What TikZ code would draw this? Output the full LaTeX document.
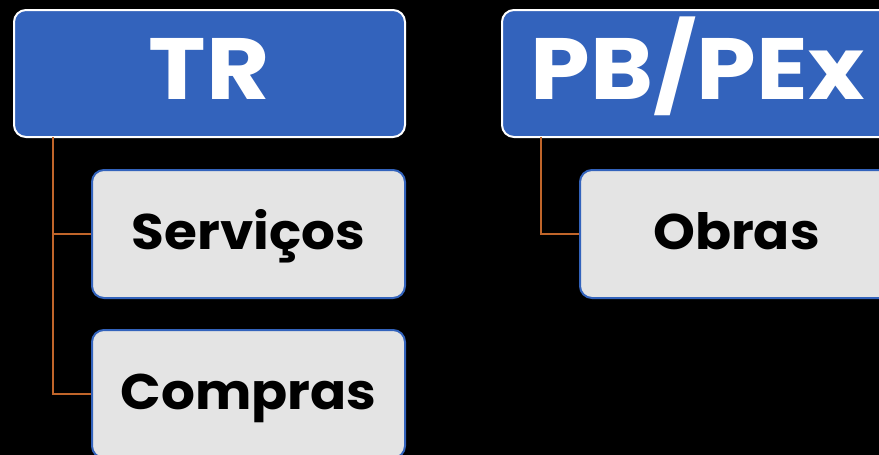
\documentclass[tikz,border=0pt]{standalone}
\usepackage{fontspec}
\setmainfont{Poppins}
\definecolor{hdrblue}{HTML}{3363BC}
\definecolor{itemgray}{HTML}{E4E4E4}
\definecolor{linkorange}{HTML}{C0652A}
\tikzset{
  hdrbox/.style={draw=white, line width=2pt, fill=hdrblue, rounded corners=12pt,
    minimum width=391pt, minimum height=127pt, inner sep=0pt, text=white,
    text height=51pt, text depth=0pt,
    font=\fontsize{87}{87}\selectfont\bfseries},
  itembox/.style={draw=hdrblue, line width=2pt, fill=itemgray, rounded corners=12pt,
    minimum width=313pt, minimum height=128pt, inner sep=0pt, text=black,
    text height=30pt, text depth=0pt,
    font=\fontsize{50}{50}\selectfont\bfseries},
  link/.style={draw=linkorange, line width=2.4pt}
}
\begin{document}
\begin{tikzpicture}[x=1pt,y=-1pt]
\fill[black] (0,0) rectangle (879,455);
\useasboundingbox (0,0) rectangle (879,455);
\begin{scope}
\clip (0,0) rectangle (879,455);
\node[hdrbox] (tr) at (209.5,73.5) {\scalebox{1.12}[1]{TR}};
\node[hdrbox] (pb) at (697.5,73.5) {\scalebox{1.1}[1]{PB/PEx}};
\node[itembox] (serv) at (248.5,234) {\scalebox{1.065}[1]{Serviços}};
\node[itembox] (comp) at (248.5,394) {\scalebox{1.065}[1]{Compras}};
\node[itembox] (obras) at (736.5,234) {\scalebox{1.065}[1]{Obras}};
\coordinate (trl) at (53,137);
\coordinate (pbl) at (541,137);
\draw[link] (trl) |- (comp.west);
\draw[link] (trl |- serv.west) -- (serv.west);
\draw[link] (pbl) |- (obras.west);
\end{scope}
\end{tikzpicture}
\end{document}
